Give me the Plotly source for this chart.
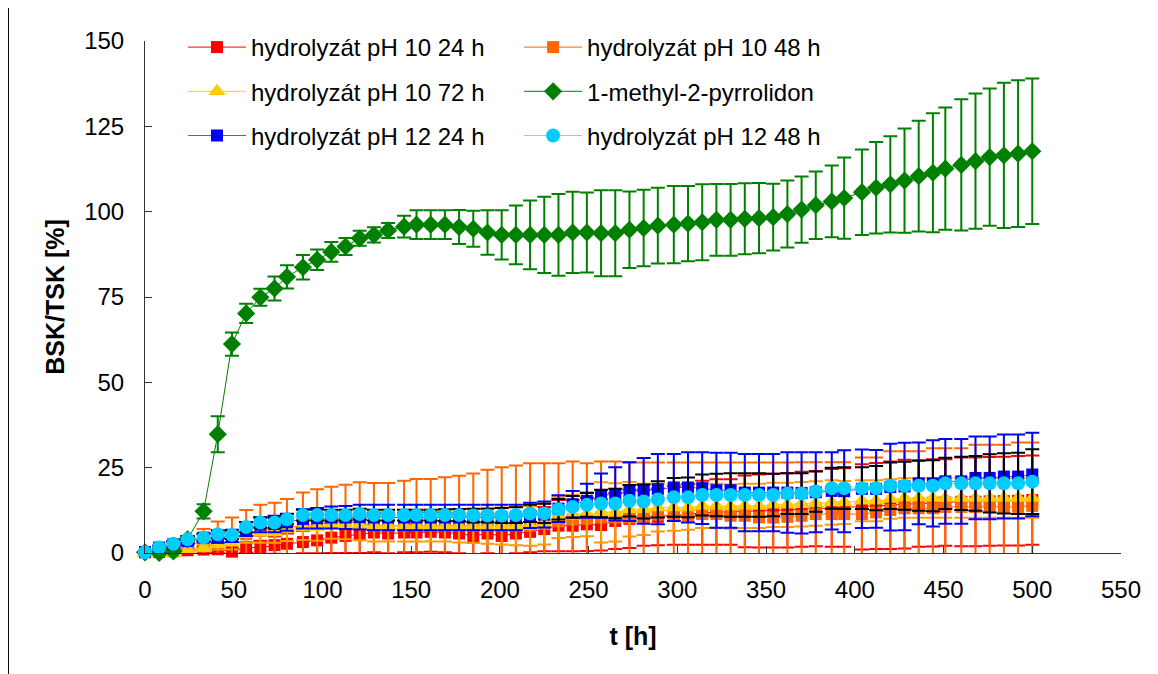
import plotly.graph_objects as go

# ---------------- data ----------------
t_h = [0, 8, 16, 24, 33, 41, 49, 57, 65, 73,
       80, 89, 97, 105, 113, 121, 129, 137, 146, 153,
       161, 169, 177, 185, 193, 201, 209, 217, 225, 233,
       241, 249, 257, 265, 273, 281, 289, 298, 306, 314,
       322, 330, 338, 346, 354, 362, 370, 378, 387, 394,
       404, 412, 420, 428, 436, 444, 451, 460, 468, 476,
       484, 492, 500]

ph10_24 = [0.2, 0.3, 0.5, 0.8, 1.0, 1.1, 0.4, 1.6, 1.6, 2.3,
           2.7, 3.2, 3.7, 4.5, 5.0, 5.5, 6.0, 5.7, 6.0, 6.0,
           6.2, 6.0, 5.7, 5.0, 5.7, 5.0, 5.7, 6.2, 7.0, 8.0,
           8.0, 8.4, 8.2, 9.4, 10.0, 10.3, 10.6, 11.0, 11.3, 11.8,
           12.0, 12.0, 12.2, 12.3, 12.4, 12.5, 12.8, 13.0, 13.2, 13.3,
           13.5, 13.8, 14.0, 14.3, 14.5, 14.7, 14.8, 15.0, 15.0, 15.1,
           15.2, 15.3, 15.5]
ph10_24_err = [0.3, 0.3, 0.5, 0.6, 0.8, 1.0, 1.0, 1.5, 2.0, 2.5,
               3.0, 3.3, 3.8, 4.5, 5.0, 5.5, 5.8, 5.8, 5.8, 5.8,
               5.8, 5.8, 5.8, 5.5, 5.8, 5.5, 5.8, 6.0, 6.5, 7.5,
               7.5, 7.8, 7.5, 8.2, 8.5, 8.2, 8.3, 8.6, 8.9, 9.4,
               9.6, 9.6, 10.5, 10.7, 10.8, 10.9, 11.0, 11.0, 11.4, 11.5,
               12.5, 12.6, 12.8, 13.0, 12.7, 12.8, 12.7, 13.0, 13.0, 13.0,
               13.0, 13.1, 13.1]

ph10_48 = [0.3, 1.0, 2.0, 2.5, 3.0, 3.5, 4.5, 5.5, 6.5, 7.0,
           7.5, 8.0, 8.5, 8.8, 9.0, 9.0, 8.0, 8.0, 8.0, 8.0,
           8.0, 8.0, 8.0, 8.0, 8.0, 8.0, 8.0, 8.0, 8.5, 9.3,
           9.8, 10.0, 10.4, 10.4, 10.4, 10.6, 11.2, 10.9, 10.9, 11.4,
           11.4, 10.9, 10.9, 10.4, 10.4, 10.6, 10.9, 11.4, 11.4, 11.4,
           11.4, 11.9, 12.6, 13.1, 13.1, 13.1, 13.5, 13.5, 13.5, 13.5,
           13.5, 13.5, 13.8]
ph10_48_err = [0.2, 0.5, 1.0, 2.5, 4.0, 5.7, 5.9, 7.1, 7.6, 7.7,
               8.3, 9.7, 10.2, 10.6, 11.0, 11.7, 12.5, 12.5, 13.2, 13.7,
               13.7, 14.2, 14.6, 15.3, 16.4, 17.1, 17.6, 18.3, 17.8, 17.0,
               17.0, 16.3, 16.4, 16.4, 16.1, 15.9, 15.3, 15.6, 15.6, 15.1,
               15.1, 15.6, 15.6, 16.1, 16.1, 15.9, 15.7, 15.2, 15.2, 15.2,
               16.6, 16.1, 17.2, 16.7, 16.7, 17.6, 17.2, 17.2, 18.2, 18.2,
               18.2, 18.9, 18.6]

ph10_72 = [0.0, 0.0, 0.0, 0.8, 1.5, 2.5, 3.0, 5.5, 6.0, 6.0,
           7.0, 7.6, 7.6, 8.2, 8.2, 8.2, 7.9, 7.9, 7.9, 7.9,
           7.9, 7.9, 7.9, 7.9, 7.9, 7.9, 7.9, 7.9, 8.5, 10.4,
           10.9, 11.4, 11.9, 11.9, 12.8, 12.8, 13.3, 13.3, 13.3, 13.8,
           13.8, 13.6, 13.8, 13.8, 14.1, 14.1, 14.3, 14.5, 14.8, 14.8,
           15.3, 15.3, 15.8, 16.1, 16.1, 16.1, 16.1, 16.1, 16.1, 16.1,
           16.1, 16.1, 16.1]
ph10_72_err = [0.2, 0.3, 0.5, 0.8, 1.0, 1.5, 2.0, 2.5, 3.0, 3.0,
               3.5, 3.8, 4.0, 4.0, 4.2, 4.5, 4.5, 4.5, 4.5, 4.5,
               4.5, 4.5, 4.8, 5.0, 5.2, 5.4, 5.6, 5.8, 6.0, 6.0,
               6.2, 6.5, 8.8, 8.5, 8.0, 7.5, 7.0, 6.8, 6.5, 6.5,
               6.5, 6.5, 6.5, 6.5, 6.5, 6.5, 6.5, 6.5, 6.5, 6.3,
               6.0, 6.0, 5.8, 5.8, 5.8, 5.8, 5.8, 5.8, 5.8, 5.8,
               5.8, 5.8, 5.8]

nmp = [0.2, 0.0, 0.5, 4.0, 12.2, 34.8, 61.2, 70.2, 74.9, 77.5,
       80.9, 83.7, 85.9, 88.2, 89.8, 92.2, 93.2, 94.5, 95.6, 96.2,
       96.2, 96.2, 95.5, 95.0, 93.9, 93.2, 93.2, 93.2, 93.2, 93.2,
       93.9, 93.9, 93.7, 93.7, 94.7, 95.2, 95.9, 96.2, 96.5, 96.9,
       97.6, 97.6, 97.9, 98.1, 98.4, 99.3, 100.6, 101.9, 103.0, 104.0,
       105.7, 107.0, 108.0, 109.1, 110.4, 111.4, 112.6, 113.7, 114.8, 116.0,
       116.5, 117.0, 117.7]
nmp_err = [0.3, 0.3, 0.5, 1.0, 2.1, 5.3, 3.4, 2.8, 2.5, 3.5,
           3.4, 3.6, 3.0, 2.9, 2.5, 2.2, 2.2, 2.2, 3.2, 4.2,
           4.2, 4.2, 5.0, 5.3, 6.5, 7.2, 8.6, 10.1, 11.2, 12.0,
           11.9, 11.7, 12.6, 12.6, 11.2, 11.2, 11.1, 11.3, 11.0, 11.1,
           10.5, 10.5, 10.4, 10.3, 9.8, 9.8, 9.7, 9.9, 10.5, 11.9,
           12.5, 13.4, 14.1, 15.3, 16.2, 17.4, 17.9, 19.2, 19.8, 20.1,
           21.3, 21.5, 21.3]

ph12_24 = [0.3, 1.6, 2.6, 3.5, 4.5, 4.5, 5.0, 7.0, 8.3, 8.5,
           9.0, 10.0, 10.2, 10.4, 10.4, 10.5, 10.4, 10.4, 10.4, 10.4,
           10.4, 10.4, 10.4, 10.4, 10.4, 10.4, 10.4, 11.0, 11.3, 13.0,
           14.3, 15.3, 16.8, 17.3, 18.0, 18.2, 18.7, 19.2, 19.2, 19.0,
           18.4, 18.4, 17.7, 17.7, 17.7, 17.7, 17.6, 17.8, 18.2, 18.1,
           18.8, 18.8, 19.3, 19.5, 20.4, 20.4, 21.0, 21.0, 22.0, 22.0,
           22.4, 22.4, 23.0]
ph12_24_err = [0.3, 0.5, 0.8, 1.0, 1.2, 1.5, 1.8, 2.0, 2.2, 2.4,
               2.5, 2.8, 3.0, 3.2, 3.4, 3.6, 3.7, 3.7, 3.7, 3.7,
               3.7, 3.7, 3.7, 3.7, 3.7, 3.7, 3.7, 3.7, 3.8, 3.9,
               3.9, 5.0, 6.5, 7.8, 8.6, 9.6, 10.3, 9.8, 10.3, 10.5,
               11.0, 11.0, 11.3, 11.3, 11.3, 11.8, 11.9, 11.7, 11.3, 12.0,
               11.5, 11.4, 12.7, 12.8, 12.0, 12.6, 12.4, 12.4, 12.1, 12.1,
               12.3, 12.3, 12.2]

ph12_48 = [0.2, 1.6, 2.7, 4.0, 4.5, 5.5, 5.3, 7.6, 8.9, 8.9,
           9.9, 11.1, 11.1, 11.1, 11.1, 11.4, 11.1, 11.1, 11.1, 11.1,
           11.1, 11.1, 11.1, 11.0, 11.0, 11.0, 11.1, 11.6, 11.6, 12.8,
           13.5, 14.1, 14.5, 14.5, 15.3, 15.1, 15.7, 16.3, 16.3, 17.0,
           17.0, 17.0, 17.0, 17.0, 17.0, 17.4, 17.4, 18.0, 19.0, 19.0,
           19.0, 19.0, 19.7, 19.7, 19.7, 19.7, 20.4, 20.4, 20.4, 20.4,
           20.4, 20.4, 20.9]
ph12_48_err = [0.3, 0.5, 0.8, 1.0, 1.0, 1.2, 1.2, 1.5, 1.5, 1.5,
               1.5, 1.6, 1.6, 1.6, 1.6, 1.6, 1.6, 1.6, 1.6, 1.6,
               1.6, 1.7, 1.8, 2.0, 2.0, 2.2, 2.3, 2.5, 2.8, 3.0,
               3.2, 3.5, 4.0, 4.3, 4.6, 5.0, 5.3, 5.7, 5.8, 6.0,
               6.2, 6.4, 6.4, 6.4, 6.2, 6.0, 6.0, 5.9, 6.0, 6.1,
               6.1, 6.5, 6.8, 7.0, 7.3, 7.5, 7.5, 7.8, 8.0, 8.5,
               8.8, 9.0, 9.5]

x_ticks = [0, 50, 100, 150, 200, 250, 300, 350, 400, 450, 500, 550]
y_ticks = [0, 25, 50, 75, 100, 125, 150]

# ---------------- styling ----------------
FONT = "Liberation Sans, Arial, sans-serif"
series = [
    # name, values, errors, marker colour, line colour, error colour, symbol, size, legend
    ("hydrolyzát pH 10 24 h", ph10_24, ph10_24_err, "#FF0000", "#FF0000", "#FF0000", "square", 12, "legend"),
    ("hydrolyzát pH 10 48 h", ph10_48, ph10_48_err, "#FF6600", "#FF6600", "#FF6600", "square", 12, "legend2"),
    ("hydrolyzát pH 10 72 h", ph10_72, ph10_72_err, "#FFCC00", "#FFCC00", "#FF9900", "triangle-up", 15, "legend"),
    ("1-methyl-2-pyrrolidon", nmp, nmp_err, "#008000", "#008000", "#008000", "diamond", 14, "legend2"),
    ("hydrolyzát pH 12 24 h", ph12_24, ph12_24_err, "#0000FF", "#5555FF", "#0000FF", "square", 12, "legend"),
    ("hydrolyzát pH 12 48 h", ph12_48, ph12_48_err, "#00CCFF", "#66DDFF", "#000000", "circle", 14, "legend2"),
]

fig = go.Figure()
for i, (name, vals, errs, mc, lc, ec, sym, sz, leg) in enumerate(series):
    # error bars (clipped to the plot area)
    fig.add_trace(go.Scatter(
        x=t_h, y=vals, mode="lines", line=dict(width=0, color=lc),
        error_y=dict(type="data", array=errs, visible=True, color=ec,
                     thickness=2, width=7),
        showlegend=False, hoverinfo="skip"))
    # line + markers
    fig.add_trace(go.Scatter(
        x=t_h, y=vals, mode="lines+markers", name=name,
        line=dict(color=lc, width=1),
        marker=dict(symbol=sym, size=sz, color=mc, line=dict(width=0)),
        cliponaxis=False, legend=leg, legendgroup=f"g{i}"))

# page is drawn with an 8 px body margin: work in page pixels
OFF = 8
W, H = 1158 - OFF, 674 - OFF
L = 145 - OFF          # plot left at page x=145
R = W - (1120.7 - OFF)  # plot right at page x=1120.7
T = 41 - OFF           # plot top at page y=41
B = H - (553 - OFF)    # plot bottom at page y=553
pw, ph = W - L - R, H - T - B

def px_x(px):
    return (px - OFF - L) / pw

def px_y(py):
    return (H - B - (py - OFF)) / ph

legend_common = dict(
    font=dict(family=FONT, size=24, color="#000000"),
    bgcolor="rgba(0,0,0,0)", borderwidth=0, orientation="v",
    itemwidth=58, tracegroupgap=10, traceorder="grouped",
    xanchor="left", yanchor="top", itemclick=False, itemdoubleclick=False,
)

fig.update_layout(
    width=W, height=H,
    margin=dict(l=L, r=R, t=T, b=B, autoexpand=False),
    paper_bgcolor="#FFFFFF", plot_bgcolor="#FFFFFF",
    font=dict(family=FONT, size=24, color="#000000"),
    legend=dict(x=px_x(183), y=px_y(25), **legend_common),
    legend2=dict(x=px_x(519), y=px_y(25), **legend_common),
    xaxis=dict(
        range=[0, 550], tickmode="array", tickvals=x_ticks,
        ticktext=[str(v) for v in x_ticks],
        showgrid=False, zeroline=False, showline=True, linecolor="#333333", linewidth=1,
        ticks="inside", ticklen=7, tickcolor="#333333", tickwidth=1,
        tickfont=dict(family=FONT, size=24), ticklabelstandoff=15,
        title=dict(text="<b>t [h]</b>", font=dict(family=FONT, size=25), standoff=25),
        automargin=False,
    ),
    yaxis=dict(
        range=[0, 150], tickmode="array", tickvals=y_ticks,
        ticktext=[str(v) for v in y_ticks],
        showgrid=False, zeroline=False, showline=True, linecolor="#333333", linewidth=1,
        ticks="inside", ticklen=7, tickcolor="#333333", tickwidth=1,
        tickfont=dict(family=FONT, size=24), ticklabelstandoff=15,
        title=dict(text="<b>BSK/TSK [%]</b>", font=dict(family=FONT, size=25), standoff=12),
        automargin=False,
    ),
    shapes=[
        dict(type="line", xref="paper", yref="paper", x0=px_x(OFF + 0.5), x1=px_x(OFF + 0.5),
             y0=px_y(OFF - 2), y1=px_y(680), line=dict(color="#000000", width=1)),
        dict(type="line", xref="paper", yref="paper", x0=px_x(1155), x1=px_x(1155),
             y0=px_y(OFF - 2), y1=px_y(680), line=dict(color="#000000", width=1)),
    ],
)

fig.write_html("out.html")
